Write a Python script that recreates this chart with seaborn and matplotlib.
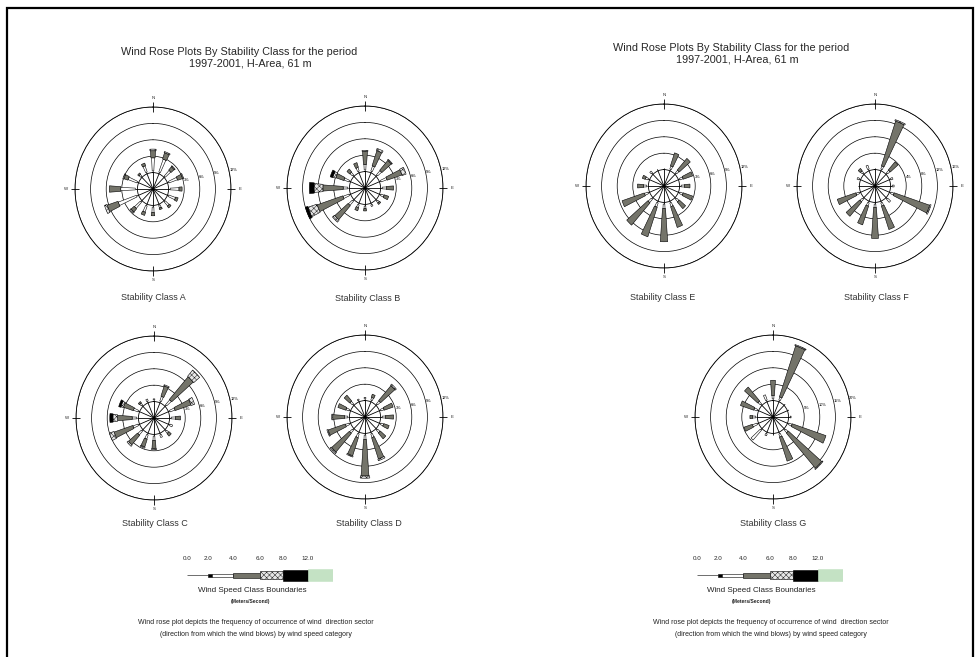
import numpy as np
import matplotlib.pyplot as plt
import seaborn as sns
from matplotlib.patches import Rectangle

W_PX, H_PX = 978, 657

# 16 sectors, clockwise from north
DIRECTIONS = ["N", "NNE", "NE", "ENE", "E", "ESE", "SE", "SSE",
              "S", "SSW", "SW", "WSW", "W", "WNW", "NW", "NNW"]
SPEED_CLASSES = ["0-2", "2-4", "4-6", "6-8", "8-12", ">12"]
LEGEND_LABELS = ["0.0", "2.0", "4.0", "6.0", "8.0", "12.0"]
COMPASS = ["N", "E", "S", "W"]

# frequency (%) per speed class (rows) and direction (columns)
ROSE_A = [
    [0.3, 0.3, 0.2, 0.3, 0.3, 0.2, 0.2, 0.2, 0.3, 0.3, 0.3, 0.4, 0.4, 0.3, 0.2, 0.3],
    [2.4, 2.5, 1.4, 1.7, 1.7, 1.4, 1.0, 0.5, 1.0, 1.2, 1.5, 3.7, 2.8, 1.8, 0.4, 1.2],
    [1.3, 1.2, 0.8, 1.0, 0.6, 0.5, 0.4, 0.3, 0.6, 0.6, 0.8, 2.2, 2.2, 0.8, 0.3, 0.5],
    [0.3, 0.2, 0.2, 0.2, 0.0, 0.0, 0.0, 0.0, 0.0, 0.0, 0.2, 0.5, 0.0, 0.2, 0.0, 0.0],
]
ROSE_B = [
    [0.3, 0.3, 0.3, 0.3, 0.3, 0.3, 0.3, 0.3, 0.3, 0.3, 0.3, 0.3, 0.3, 0.3, 0.3, 0.3],
    [1.0, 1.0, 1.0, 1.2, 0.8, 0.6, 0.4, 0.3, 0.5, 0.5, 1.0, 1.2, 0.9, 1.0, 0.6, 0.7],
    [2.4, 2.9, 2.4, 3.0, 1.4, 0.9, 0.3, 0.0, 0.4, 0.6, 3.4, 5.2, 3.9, 1.6, 0.7, 0.9],
    [0.2, 0.4, 0.2, 0.8, 0.0, 0.0, 0.0, 0.0, 0.0, 0.0, 0.5, 1.8, 1.7, 0.6, 0.0, 0.0],
    [0.0, 0.0, 0.0, 0.0, 0.0, 0.0, 0.0, 0.0, 0.0, 0.0, 0.0, 0.5, 0.9, 0.5, 0.0, 0.0],
]
ROSE_C = [
    [0.3, 0.3, 0.3, 0.3, 0.3, 0.3, 0.3, 0.3, 0.3, 0.3, 0.3, 0.3, 0.3, 0.3, 0.3, 0.3],
    [0.2, 0.9, 1.2, 1.0, 0.8, 0.5, 0.5, 0.5, 0.8, 0.8, 0.9, 1.0, 0.9, 0.9, 0.4, 0.4],
    [0.0, 2.0, 5.5, 3.2, 1.0, 0.0, 0.6, 0.0, 1.5, 1.5, 2.3, 3.8, 2.8, 2.0, 0.3, 0.0],
    [0.0, 0.2, 1.5, 0.7, 0.0, 0.0, 0.0, 0.0, 0.2, 0.2, 0.3, 0.9, 0.9, 0.5, 0.0, 0.0],
    [0.0, 0.0, 0.0, 0.0, 0.0, 0.0, 0.0, 0.0, 0.0, 0.0, 0.0, 0.0, 0.6, 0.4, 0.0, 0.0],
]
ROSE_D = [
    [0.3, 0.3, 0.3, 0.3, 0.3, 0.3, 0.3, 0.3, 0.3, 0.3, 0.3, 0.3, 0.3, 0.3, 0.3, 0.3],
    [0.3, 0.5, 0.7, 0.6, 0.6, 0.5, 0.6, 0.7, 0.8, 0.7, 0.7, 0.7, 0.6, 0.6, 0.6, 0.2],
    [0.0, 0.6, 3.6, 1.8, 1.6, 1.1, 1.4, 4.1, 6.7, 3.5, 4.5, 3.5, 2.3, 1.6, 1.4, 0.0],
    [0.0, 0.0, 0.3, 0.0, 0.0, 0.0, 0.0, 0.3, 0.4, 0.2, 0.3, 0.2, 0.2, 0.0, 0.0, 0.0],
]
ROSE_E = [
    [0.3, 0.3, 0.3, 0.3, 0.3, 0.3, 0.3, 0.3, 0.3, 0.3, 0.3, 0.3, 0.3, 0.3, 0.3, 0.3],
    [0.0, 0.6, 0.6, 0.6, 0.6, 0.6, 0.6, 0.7, 0.8, 0.8, 0.8, 0.7, 0.6, 0.5, 0.4, 0.0],
    [0.0, 2.5, 2.8, 1.9, 1.1, 1.9, 1.6, 4.0, 6.1, 5.7, 5.4, 4.5, 1.2, 0.6, 0.0, 0.0],
]
ROSE_F = [
    [0.4, 0.4, 0.4, 0.4, 0.4, 0.4, 0.4, 0.4, 0.4, 0.4, 0.4, 0.4, 0.4, 0.4, 0.4, 0.4],
    [0.0, 0.8, 0.8, 0.5, 0.5, 0.8, 1.0, 0.8, 0.8, 0.8, 0.8, 0.8, 0.0, 0.5, 0.6, 1.0],
    [0.0, 11.5, 2.6, 0.0, 0.0, 9.6, 0.0, 6.0, 7.6, 4.8, 4.6, 5.0, 0.0, 0.0, 0.7, 0.0],
    [0.0, 0.3, 0.0, 0.0, 0.0, 0.3, 0.0, 0.0, 0.0, 0.0, 0.0, 0.0, 0.0, 0.0, 0.0, 0.0],
]
ROSE_G = [
    [0.5, 0.5, 0.5, 0.5, 0.5, 0.5, 0.5, 0.5, 0.5, 0.5, 0.5, 0.5, 0.5, 0.5, 0.5, 0.5],
    [1.0, 1.0, 0.0, 0.0, 0.3, 1.0, 1.0, 1.0, 0.0, 0.6, 4.0, 1.5, 1.0, 1.0, 1.0, 1.7],
    [4.7, 16.4, 0.0, 0.0, 0.0, 11.4, 14.2, 7.7, 0.0, 0.0, 0.0, 2.8, 0.9, 4.5, 5.6, 0.0],
    [0.0, 0.3, 0.0, 0.0, 0.0, 0.0, 0.3, 0.0, 0.0, 0.0, 0.0, 0.0, 0.0, 0.0, 0.0, 0.0],
]

CLASS_NAMES = ["A", "B", "C", "D", "E", "F", "G"]
ROSES = [ROSE_A, ROSE_B, ROSE_C, ROSE_D, ROSE_E, ROSE_F, ROSE_G]
RING_STEPS = [3, 3, 3, 3, 3, 4, 5]

# rose centres in pixels (x, y from top)
CENTERS = [(153, 189), (365, 188), (154, 418), (365, 417),
           (664, 186), (875, 186), (773, 417)]
LABEL_POS = [(153, 298), (368, 299), (155, 524), (369, 523),
             (663, 297), (876, 298), (773, 524)]

# petal style per speed class (after the 0-2 line)
PETAL_STYLES = [
    dict(color="white", width=5.5, hatch=None),
    dict(color="#74746a", width=8.0, hatch=None),
    dict(color="#e6e6e6", width=9.5, hatch="xxxxxx"),
    dict(color="black", width=11.0, hatch=None),
]

sns.set_theme(style="white")
plt.rcParams["font.family"] = ["Liberation Sans", "DejaVu Sans"]
plt.rcParams["hatch.linewidth"] = 0.3

fig = plt.figure(figsize=(W_PX / 100, H_PX / 100), dpi=100)


def fx(x):
    return x / W_PX


def fy(y):
    return 1 - y / H_PX


def draw_rose(center, rows, step):
    cx, cy = center
    bw, bh = 156, 164
    ax = fig.add_axes([fx(cx - bw / 2), fy(cy + bh / 2), bw / W_PX, bh / H_PX],
                      projection="polar")
    ax.set_aspect("auto")
    ax.set_facecolor("none")
    ax.set_theta_zero_location("N")
    ax.set_theta_direction(-1)
    rmax = 4 * step
    ax.set_ylim(0, rmax)
    ax.set_rorigin(-step)

    theta = np.deg2rad(np.arange(len(DIRECTIONS)) * 22.5)
    line = np.array(rows[0], dtype=float)
    ax.vlines(theta, -step, line, color="black", lw=0.6, clip_on=False, zorder=3)

    bottom = line.copy()
    for vals, st in zip(rows[1:], PETAL_STYLES):
        vals = np.array(vals, dtype=float)
        m = vals > 0
        if m.any():
            ax.bar(theta[m], vals[m], width=np.deg2rad(st["width"]), bottom=bottom[m],
                   color=st["color"], edgecolor="black", linewidth=0.4,
                   hatch=st["hatch"], zorder=4)
        bottom = bottom + vals

    rings = [step * k for k in range(1, 5)]
    ax.set_rgrids(rings, labels=[f"{r}%" for r in rings], angle=78, fontsize=2.8)
    ax.yaxis.grid(True, color="black", lw=0.5)
    ax.xaxis.grid(False)
    ax.set_xticks([])
    ax.tick_params(axis="y", left=False, pad=0, colors="black")

    # compass ticks crossing the outer ring
    ctheta = np.deg2rad([0, 90, 180, 270])
    ax.vlines(ctheta, rmax - 0.28 * step, rmax + 0.28 * step, color="black",
              lw=0.6, clip_on=False)
    for t, lab in zip(ctheta, COMPASS):
        ax.text(t, rmax + 0.55 * step, lab, ha="center", va="center",
                fontsize=3.2, clip_on=False)
    for sp in ax.spines.values():
        sp.set_linewidth(0.6)
        sp.set_color("black")
    return ax


for center, rows, step in zip(CENTERS, ROSES, RING_STEPS):
    draw_rose(center, rows, step)

for name, (lx, ly) in zip(CLASS_NAMES, LABEL_POS):
    fig.text(fx(lx), fy(ly), f"Stability Class {name}", ha="center", va="center",
             fontsize=6.5, color="#333333")

# titles
for x1, x2, y1, y2 in [(239, 250, 52, 63), (731, 737, 48, 59)]:
    fig.text(fx(x1), fy(y1), "Wind Rose Plots By Stability Class for the period",
             ha="center", va="center", fontsize=7.8)
    fig.text(fx(x2), fy(y2), "1997-2001, H-Area, 61 m", ha="center", va="center",
             fontsize=7.8)

# speed class legends
LEG_LEN = [21, 4, 21, 27, 23, 25, 25]
LEG_HEIGHT = [0.8, 3.0, 3.0, 5.0, 8.0, 11.0, 12.0]
LEG_COLOR = ["black", "black", "white", "#74746a", "#e6e6e6", "black", "#c4e2c4"]
LEG_HATCH = [None, None, None, None, "xxxxxx", None, None]
LEG_EDGE = ["black", "black", "black", "black", "black", "black", "#c4e2c4"]

for lx0 in [187, 697]:
    lax = fig.add_axes([fx(lx0), fy(582), 146 / W_PX, 14 / H_PX])
    lefts = np.concatenate([[0], np.cumsum(LEG_LEN)[:-1]])
    for left, ln, h, c, hc, ec in zip(lefts, LEG_LEN, LEG_HEIGHT, LEG_COLOR, LEG_HATCH, LEG_EDGE):
        lax.barh(0, ln, left=left, height=h, color=c, edgecolor=ec, linewidth=0.4, hatch=hc)
    lax.set_xlim(0, sum(LEG_LEN))
    lax.set_ylim(-7, 7)
    bounds = np.concatenate([[0], np.cumsum(LEG_LEN)])
    lax.xaxis.tick_top()
    lax.set_xticks(bounds[[0, 1, 3, 4, 5, 6]])
    lax.set_xticklabels(LEGEND_LABELS, fontsize=4.5)
    lax.tick_params(axis="x", top=True, length=0, pad=5)
    lax.set_yticks([])
    for sp in lax.spines.values():
        sp.set_visible(False)
    lax.set_facecolor("none")

for cx, cx2, cx3 in [(252, 251, 256), (761, 752, 771)]:
    fig.text(fx(cx), fy(591), "Wind Speed Class Boundaries", ha="center", va="center",
             fontsize=5.8, color="#222222")
    fig.text(fx(cx2), fy(602), "(Meters/Second)", ha="center", va="center",
             fontsize=3.6, fontweight="bold", color="#222222")
    fig.text(fx(cx3), fy(623),
             "Wind rose plot depicts the frequency of occurrence of wind  direction sector",
             ha="center", va="center", fontsize=5.0, color="#222222")
    fig.text(fx(cx3), fy(634),
             "(direction from which the wind blows) by wind speed category",
             ha="center", va="center", fontsize=5.0, color="#222222")

# page frame
fig.add_artist(Rectangle((fx(7), -0.05), fx(973) - fx(7), fy(8) + 0.05,
                         transform=fig.transFigure, fill=False, lw=1.6,
                         edgecolor="black"))

fig.savefig("out.png", dpi=100)
